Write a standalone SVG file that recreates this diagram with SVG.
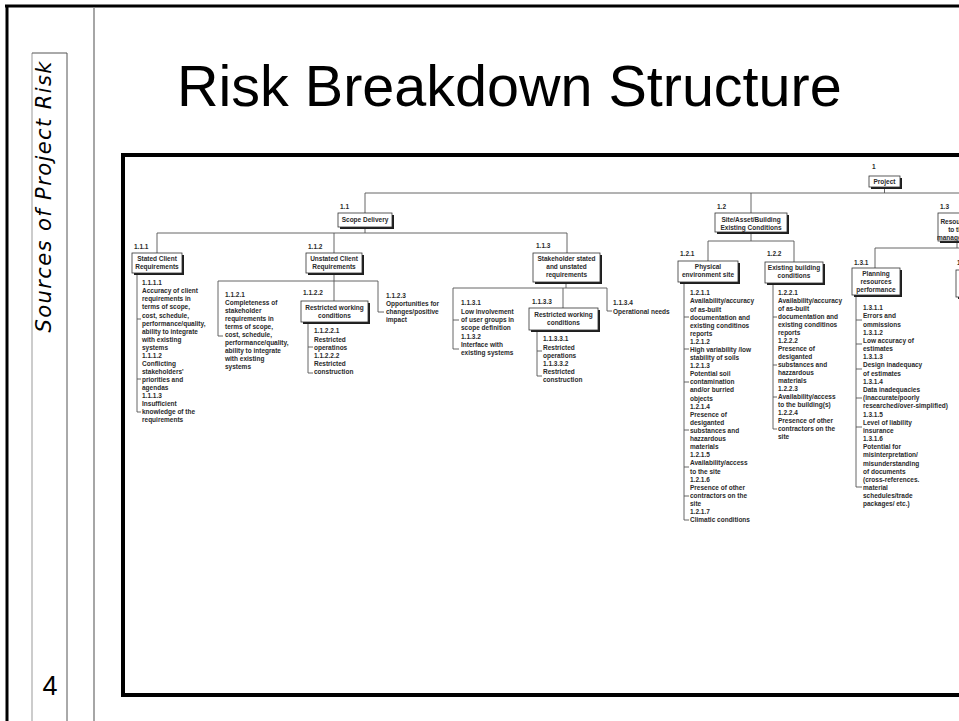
<svg xmlns="http://www.w3.org/2000/svg" width="959" height="721" viewBox="0 0 959 721">
<style>
.t{font-family:"Liberation Sans",Arial,sans-serif;font-weight:bold;font-size:6.5px;fill:#2a2a2a}
.c{text-anchor:middle}
.box{fill:#fff;stroke:#333;stroke-width:0.8}
.sh{fill:#1e1e1e}
.ln{fill:none;stroke:#555;stroke-width:0.9}
</style>
<defs>
<clipPath id="inner"><rect x="125" y="157" width="834" height="536"/></clipPath>
</defs>
<rect width="959" height="721" fill="#fff"/>
<g id="frame">
<line x1="5" y1="6" x2="959" y2="6" stroke="#000" stroke-width="3"/>
<line x1="7" y1="5" x2="7" y2="721" stroke="#000" stroke-width="3"/>
<line x1="32" y1="53" x2="32" y2="721" stroke="#999" stroke-width="1"/>
<line x1="67" y1="53" x2="67" y2="721" stroke="#555" stroke-width="1"/>
<line x1="32" y1="53" x2="67" y2="53" stroke="#555" stroke-width="1"/>
<line x1="94" y1="7" x2="94" y2="721" stroke="#888" stroke-width="1.5"/>
<text transform="translate(51,197) rotate(-90)" text-anchor="middle" font-family="DejaVu Sans, Verdana, sans-serif" font-style="italic" font-size="21" textLength="271" lengthAdjust="spacing" fill="#000">Sources of Project Risk</text>
<text x="50" y="695" text-anchor="middle" font-family="Liberation Sans, Arial, sans-serif" font-size="27" fill="#000">4</text>
<text x="177" y="106" font-family="Liberation Sans, Arial, sans-serif" font-size="57.5" fill="#000">Risk Breakdown Structure</text>
<rect x="123" y="155" width="900" height="540" fill="none" stroke="#000" stroke-width="4"/>
</g>
<g clip-path="url(#inner)">
<g id="connectors" class="ln">
<path d="M884.5 187V193M365 193H959M365 193V213M751 193V213"/>
<path d="M365 227V233M157 233H567M157 233V253M334 233V253M567 233V253"/>
<path d="M137 273V412H141M137 319H141M137 379H141"/>
<path d="M334 273V301M218 281H378M218 281V336H223M378 281V312H384"/>
<path d="M308 322V373H313M308 347H313"/>
<path d="M566 282V288M453 288H607M453 288V349H459M453 320H459M563 288V308M607 288V311H612"/>
<path d="M537 330V376H542M537 351H542"/>
<path d="M751 232V241M708 241H794M708 241V261M794 241V262"/>
<path d="M684 282V520H689M684 317H689M684 349H689M684 382H689M684 430H689M684 467H689M684 496H689"/>
<path d="M773 283V429H777M773 317H777M773 365H777M773 397H777"/>
<path d="M957 241V248M875 248H959M875 248V268"/>
<path d="M856 295V487H862M856 320H862M856 344H862M856 369H862M856 398H862M856 427H862"/>
</g>
<g id="n1">
<text class="t" x="872" y="169">1</text>
<rect class="sh" x="871" y="178" width="31" height="11"/><rect class="box" x="869" y="176" width="31" height="11"/>
<text class="t c" x="884.5" y="183.8">Project</text>
</g>
<g id="n1_1">
<text class="t" x="340" y="209">1.1</text>
<rect class="sh" x="340" y="215" width="54" height="14"/><rect class="box" x="338" y="213" width="54" height="14"/>
<text class="t c" x="365" y="222.3">Scope Delivery</text>
</g>
<g id="n1_1_1">
<text class="t" x="134" y="249">1.1.1</text>
<rect class="sh" x="134" y="255" width="50" height="20"/><rect class="box" x="132" y="253" width="50" height="20"/>
<text class="t c" x="157" y="261.3">Stated Client</text><text class="t c" x="157" y="269.3">Requirements</text>
<text class="t" x="142" y="285.3"><tspan x="142">1.1.1.1</tspan><tspan x="142" dy="8.05">Accuracy of client</tspan><tspan x="142" dy="8.05">requirements in</tspan><tspan x="142" dy="8.05">terms of scope,</tspan><tspan x="142" dy="8.05">cost, schedule,</tspan><tspan x="142" dy="8.05">performance/quality,</tspan><tspan x="142" dy="8.05">ability to integrate</tspan><tspan x="142" dy="8.05">with existing</tspan><tspan x="142" dy="8.05">systems</tspan><tspan x="142" dy="8.05">1.1.1.2</tspan><tspan x="142" dy="8.05">Conflicting</tspan><tspan x="142" dy="8.05">stakeholders'</tspan><tspan x="142" dy="8.05">priorities and</tspan><tspan x="142" dy="8.05">agendas</tspan><tspan x="142" dy="8.05">1.1.1.3</tspan><tspan x="142" dy="8.05">Insufficient</tspan><tspan x="142" dy="8.05">knowledge of the</tspan><tspan x="142" dy="8.05">requirements</tspan></text>
</g>
<g id="n1_1_2">
<text class="t" x="308" y="249">1.1.2</text>
<rect class="sh" x="308" y="255" width="56" height="20"/><rect class="box" x="306" y="253" width="56" height="20"/>
<text class="t c" x="334" y="261.3">Unstated Client</text><text class="t c" x="334" y="269.3">Requirements</text>
<text class="t" x="225" y="297.3"><tspan x="225">1.1.2.1</tspan><tspan x="225" dy="8">Completeness of</tspan><tspan x="225" dy="8">stakeholder</tspan><tspan x="225" dy="8">requirements in</tspan><tspan x="225" dy="8">terms of scope,</tspan><tspan x="225" dy="8">cost, schedule,</tspan><tspan x="225" dy="8">performance/quality,</tspan><tspan x="225" dy="8">ability to integrate</tspan><tspan x="225" dy="8">with existing</tspan><tspan x="225" dy="8">systems</tspan></text>
<text class="t" x="386" y="298.3"><tspan x="386">1.1.2.3</tspan><tspan x="386" dy="8">Opportunities for</tspan><tspan x="386" dy="8">changes/positive</tspan><tspan x="386" dy="8">impact</tspan></text>
</g>
<g id="n1_1_2_2">
<text class="t" x="303" y="295.3">1.1.2.2</text>
<rect class="sh" x="303" y="303" width="67" height="21"/><rect class="box" x="301" y="301" width="67" height="21"/>
<text class="t c" x="334.5" y="310.3">Restricted working</text><text class="t c" x="334.5" y="318.3">conditions</text>
<text class="t" x="314" y="333.3"><tspan x="314">1.1.2.2.1</tspan><tspan x="314" dy="8.2">Restricted</tspan><tspan x="314" dy="8.2">operatinos</tspan><tspan x="314" dy="8.2">1.1.2.2.2</tspan><tspan x="314" dy="8.2">Restricted</tspan><tspan x="314" dy="8.2">construction</tspan></text>
</g>
<g id="n1_1_3">
<text class="t" x="536" y="248.3">1.1.3</text>
<rect class="sh" x="535" y="255" width="67" height="29"/><rect class="box" x="533" y="253" width="67" height="29"/>
<text class="t c" x="566.5" y="261.3">Stakeholder stated</text><text class="t c" x="566.5" y="269.3">and unstated</text><text class="t c" x="566.5" y="277.3">requirements</text>
<text class="t" x="461" y="305.3"><tspan x="461">1.1.3.1</tspan><tspan x="461" dy="8.3">Low involvement</tspan><tspan x="461" dy="8.3">of user groups in</tspan><tspan x="461" dy="8.3">scope definition</tspan><tspan x="461" dy="8.3">1.1.3.2</tspan><tspan x="461" dy="8.3">Interface with</tspan><tspan x="461" dy="8.3">existing systems</tspan></text>
<text class="t" x="613" y="305.3"><tspan x="613">1.1.3.4</tspan><tspan x="613" dy="8.5">Operational needs</tspan></text>
</g>
<g id="n1_1_3_3">
<text class="t" x="532" y="304.3">1.1.3.3</text>
<rect class="sh" x="531" y="310" width="69" height="22"/><rect class="box" x="529" y="308" width="69" height="22"/>
<text class="t c" x="563.5" y="317.3">Restricted working</text><text class="t c" x="563.5" y="325.3">conditions</text>
<text class="t" x="543" y="341.3"><tspan x="543">1.1.3.3.1</tspan><tspan x="543" dy="8.2">Restricted</tspan><tspan x="543" dy="8.2">operations</tspan><tspan x="543" dy="8.2">1.1.3.3.2</tspan><tspan x="543" dy="8.2">Restricted</tspan><tspan x="543" dy="8.2">construction</tspan></text>
</g>
<g id="n1_2">
<text class="t" x="717" y="209.3">1.2</text>
<rect class="sh" x="717" y="215" width="72" height="19"/><rect class="box" x="715" y="213" width="72" height="19"/>
<text class="t c" x="751" y="222.3">Site/Asset/Building</text><text class="t c" x="751" y="229.6">Existing Conditions</text>
</g>
<g id="n1_2_1">
<text class="t" x="680" y="256.3">1.2.1</text>
<rect class="sh" x="680" y="263" width="60" height="21"/><rect class="box" x="678" y="261" width="60" height="21"/>
<text class="t c" x="708" y="269.3">Physical</text><text class="t c" x="708" y="277.3">environment site</text>
<text class="t" x="690" y="295.3"><tspan x="690">1.2.1.1</tspan><tspan x="690" dy="8.1">Availability/accuracy</tspan><tspan x="690" dy="8.1">of as-built</tspan><tspan x="690" dy="8.1">documentation and</tspan><tspan x="690" dy="8.1">existing conditinos</tspan><tspan x="690" dy="8.1">reports</tspan><tspan x="690" dy="8.1">1.2.1.2</tspan><tspan x="690" dy="8.1">High variability /low</tspan><tspan x="690" dy="8.1">stability of soils</tspan><tspan x="690" dy="8.1">1.2.1.3</tspan><tspan x="690" dy="8.1">Potential soil</tspan><tspan x="690" dy="8.1">contamination</tspan><tspan x="690" dy="8.1">and/or burried</tspan><tspan x="690" dy="8.1">objects</tspan><tspan x="690" dy="8.1">1.2.1.4</tspan><tspan x="690" dy="8.1">Presence of</tspan><tspan x="690" dy="8.1">desiganted</tspan><tspan x="690" dy="8.1">substances and</tspan><tspan x="690" dy="8.1">hazzardous</tspan><tspan x="690" dy="8.1">materials</tspan><tspan x="690" dy="8.1">1.2.1.5</tspan><tspan x="690" dy="8.1">Availability/access</tspan><tspan x="690" dy="8.1">to the site</tspan><tspan x="690" dy="8.1">1.2.1.6</tspan><tspan x="690" dy="8.1">Presence of other</tspan><tspan x="690" dy="8.1">contractors on the</tspan><tspan x="690" dy="8.1">site</tspan><tspan x="690" dy="8.1">1.2.1.7</tspan><tspan x="690" dy="8.1">Climatic conditions</tspan></text>
</g>
<g id="n1_2_2">
<text class="t" x="767" y="256.3">1.2.2</text>
<rect class="sh" x="767" y="264" width="58" height="21"/><rect class="box" x="765" y="262" width="58" height="21"/>
<text class="t c" x="794" y="270.3">Existing building</text><text class="t c" x="794" y="277.6">conditions</text>
<text class="t" x="778" y="295.3"><tspan x="778">1.2.2.1</tspan><tspan x="778" dy="8">Availability/accuracy</tspan><tspan x="778" dy="8">of as-built</tspan><tspan x="778" dy="8">documentation and</tspan><tspan x="778" dy="8">existing conditinos</tspan><tspan x="778" dy="8">reports</tspan><tspan x="778" dy="8">1.2.2.2</tspan><tspan x="778" dy="8">Presence of</tspan><tspan x="778" dy="8">desiganted</tspan><tspan x="778" dy="8">substances and</tspan><tspan x="778" dy="8">hazzardous</tspan><tspan x="778" dy="8">materials</tspan><tspan x="778" dy="8">1.2.2.3</tspan><tspan x="778" dy="8">Availability/access</tspan><tspan x="778" dy="8">to the building(s)</tspan><tspan x="778" dy="8">1.2.2.4</tspan><tspan x="778" dy="8">Presence of other</tspan><tspan x="778" dy="8">contractors on the</tspan><tspan x="778" dy="8">site</tspan></text>
</g>
<g id="n1_3">
<text class="t" x="940" y="209.3">1.3</text>
<rect class="sh" x="940" y="215" width="40" height="28"/><rect class="box" x="938" y="213" width="40" height="28"/>
<text class="t c" x="957" y="224.3">Resources</text><text class="t c" x="957" y="232.3">to the</text><text class="t c" x="957" y="239.5">management</text>
</g>
<g id="n1_3_1">
<text class="t" x="854" y="265.3">1.3.1</text>
<rect class="sh" x="854" y="270" width="48" height="27"/><rect class="box" x="852" y="268" width="48" height="27"/>
<text class="t c" x="876" y="276.3">Planning</text><text class="t c" x="876" y="284.3">resources</text><text class="t c" x="876" y="292.3">performance</text>
<text class="t" x="863" y="310.3"><tspan x="863">1.3.1.1</tspan><tspan x="863" dy="8.17">Errors and</tspan><tspan x="863" dy="8.17">ommissions</tspan><tspan x="863" dy="8.17">1.3.1.2</tspan><tspan x="863" dy="8.17">Low accuracy of</tspan><tspan x="863" dy="8.17">estimates</tspan><tspan x="863" dy="8.17">1.3.1.3</tspan><tspan x="863" dy="8.17">Design inadequacy</tspan><tspan x="863" dy="8.17">of estimates</tspan><tspan x="863" dy="8.17">1.3.1.4</tspan><tspan x="863" dy="8.17">Data inadequacies</tspan><tspan x="863" dy="8.17">(inaccurate/poorly</tspan><tspan x="863" dy="8.17">researched/over-simplified)</tspan><tspan x="863" dy="8.17">1.3.1.5</tspan><tspan x="863" dy="8.17">Level of liability</tspan><tspan x="863" dy="8.17">insurance</tspan><tspan x="863" dy="8.17">1.3.1.6</tspan><tspan x="863" dy="8.17">Potential for</tspan><tspan x="863" dy="8.17">misinterpretation/</tspan><tspan x="863" dy="8.17">misunderstanding</tspan><tspan x="863" dy="8.17">of documents</tspan><tspan x="863" dy="8.17">(cross-references.</tspan><tspan x="863" dy="8.17">material</tspan><tspan x="863" dy="8.17">schedules/trade</tspan><tspan x="863" dy="8.17">packages/ etc.)</tspan></text>
</g>
<g id="n1_3_2">
<text class="t" x="957" y="265.3">1.3.2</text>
<rect class="sh" x="958" y="272" width="50" height="27"/><rect class="box" x="956" y="270" width="50" height="27"/>
</g>
</g>
</svg>
